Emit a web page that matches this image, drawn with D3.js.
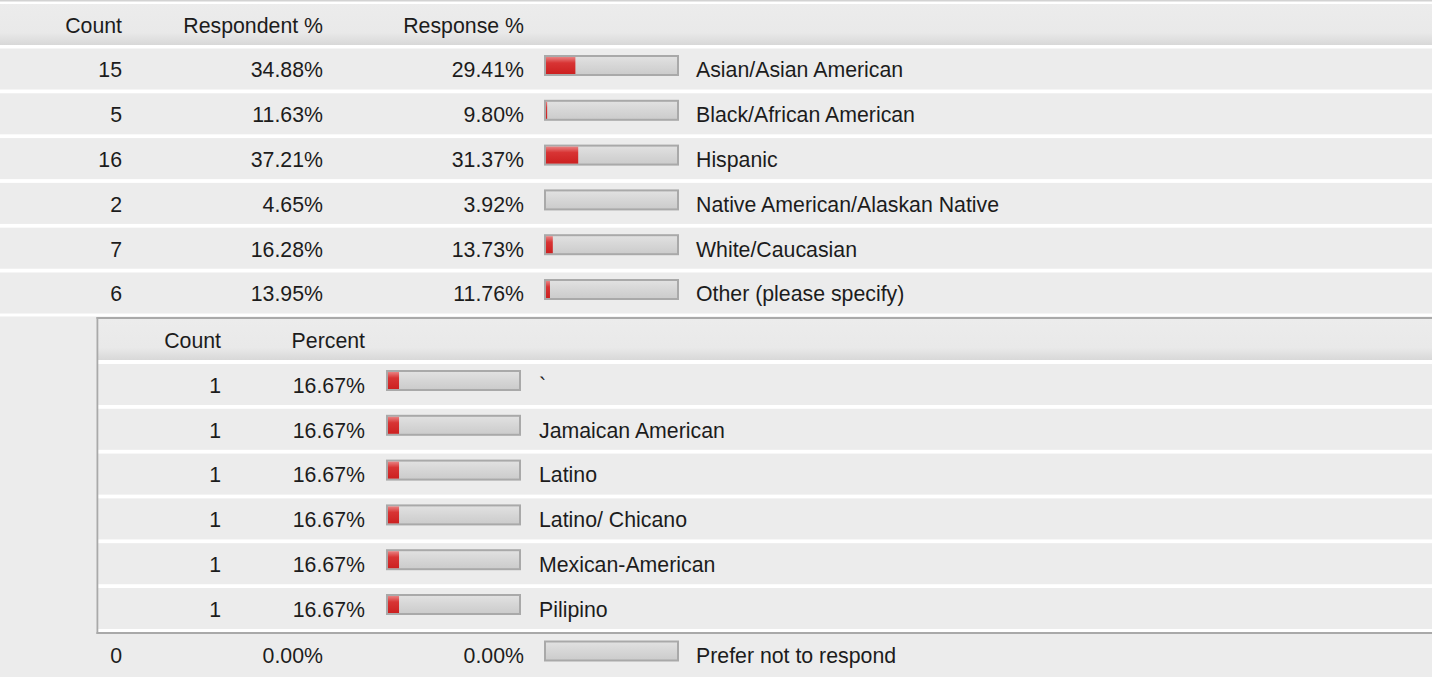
<!DOCTYPE html>
<html>
<head>
<meta charset="utf-8">
<script src="https://cdn.jsdelivr.net/npm/d3@7/dist/d3.min.js"></script>
<style>
  html, body { margin: 0; padding: 0; background: #ffffff; }
  svg { display: block; }
  text { font-family: "Liberation Sans", Arial, Helvetica, sans-serif; font-size: 21.3px; fill: #1c1c1c; }
</style>
</head>
<body>
<svg id="chart" width="1432" height="677"></svg>
<script>
// ---------- data ----------
const mainHeaders = ["Count", "Respondent %", "Response %"];
const mainLabels = ["Asian/Asian American", "Black/African American", "Hispanic",
  "Native American/Alaskan Native", "White/Caucasian", "Other (please specify)", "Prefer not to respond"];
const mainCounts = [15, 5, 16, 2, 7, 6, 0];
const respondentPct = [34.88, 11.63, 37.21, 4.65, 16.28, 13.95, 0.00];
const responsePct = [29.41, 9.80, 31.37, 3.92, 13.73, 11.76, 0.00];

const subHeaders = ["Count", "Percent"];
const subLabels = ["`", "Jamaican American", "Latino", "Latino/ Chicano", "Mexican-American", "Pilipino"];
const subCounts = [1, 1, 1, 1, 1, 1];
const subPct = [16.67, 16.67, 16.67, 16.67, 16.67, 16.67];

// ---------- drawing ----------
const W = 1432, H = 677;
const svg = d3.select("#chart");
const defs = svg.append("defs");
const fmtPct = v => d3.format(".2f")(v) + "%";

function grad(id, stops) {
  const g = defs.append("linearGradient").attr("id", id)
    .attr("x1", 0).attr("y1", 0).attr("x2", 0).attr("y2", 1);
  stops.forEach(s => g.append("stop").attr("offset", s[0]).attr("stop-color", s[1]));
}
grad("hdr", [[0, "#ececec"], [0.7, "#e9e9e9"], [1, "#d8d8d8"]]);
grad("track", [[0, "#e2e2e2"], [0.5, "#d6d6d6"], [1, "#cbcbcb"]]);
grad("red", [[0, "#e98282"], [0.35, "#d83434"], [1, "#cc2020"]]);

const ROW_BG = "#ececec";
const ROW_H = 41;
const PITCH = 44.8;

// row index -> top y
const yMain = d3.scaleLinear().domain([0, 1]).range([48.5, 48.5 + PITCH]);
const ySub = d3.scaleLinear().domain([0, 1]).range([364, 364 + PITCH]);
const lastTop = 634;

// bar fill scale (shared by both tables)
const BAR_W = 135, BAR_H = 21, BORDER = 2;
const fillX = d3.scaleLinear().domain([9, 100]).range([0, BAR_W - 2 * BORDER]).clamp(true);

// top rule
svg.append("rect").attr("x", 0).attr("y", 0).attr("width", W).attr("height", 1.5).attr("fill", "#d2d2d2");

// main header
svg.append("rect").attr("x", 0).attr("y", 4).attr("width", W).attr("height", 41).attr("fill", "url(#hdr)");
const mainColX = [122, 323, 524];
svg.selectAll("text.mh").data(mainHeaders).join("text").attr("class", "mh")
  .attr("x", (d, i) => mainColX[i]).attr("y", 24.5 + 8).attr("text-anchor", "end").text(d => d);

function bar(g, x, y, value) {
  g.append("rect").attr("x", x + BORDER / 2).attr("y", y + BORDER / 2)
    .attr("width", BAR_W - BORDER).attr("height", BAR_H - BORDER)
    .attr("fill", "url(#track)").attr("stroke", "#a9a9a9").attr("stroke-width", BORDER);
  const w = fillX(value);
  if (w > 0) {
    g.append("rect").attr("x", x + BORDER).attr("y", y + BORDER)
      .attr("width", w).attr("height", BAR_H - 2 * BORDER).attr("fill", "url(#red)");
  }
}

function mainRow(i, top) {
  const g = svg.append("g");
  g.append("rect").attr("x", 0).attr("y", top).attr("width", W).attr("height", (i === 6 ? H - top : ROW_H)).attr("fill", ROW_BG);
  const cy = top + 20.5 + 8.3;
  g.append("text").attr("x", mainColX[0]).attr("y", cy).attr("text-anchor", "end").text(mainCounts[i]);
  g.append("text").attr("x", mainColX[1]).attr("y", cy).attr("text-anchor", "end").text(fmtPct(respondentPct[i]));
  g.append("text").attr("x", mainColX[2]).attr("y", cy).attr("text-anchor", "end").text(fmtPct(responsePct[i]));
  bar(g, 544, top + 6.5, responsePct[i]);
  g.append("text").attr("x", 696).attr("y", cy).text(mainLabels[i]);
}
for (let i = 0; i < 6; i++) mainRow(i, yMain(i));

// container row for the sub-table
svg.append("rect").attr("x", 0).attr("y", 316.5).attr("width", W).attr("height", lastTop - 316.5).attr("fill", ROW_BG);
// sub-table background (white gaps)
svg.append("rect").attr("x", 97).attr("y", 317).attr("width", W - 97).attr("height", 317).attr("fill", "#ffffff");
// sub header
svg.append("rect").attr("x", 98).attr("y", 319).attr("width", W - 98).attr("height", 41).attr("fill", "url(#hdr)");
const subColX = [221, 365];
svg.selectAll("text.sh").data(subHeaders).join("text").attr("class", "sh")
  .attr("x", (d, i) => subColX[i]).attr("y", 339.5 + 8).attr("text-anchor", "end").text(d => d);

subLabels.forEach((lab, j) => {
  const top = ySub(j);
  const g = svg.append("g");
  g.append("rect").attr("x", 98).attr("y", top).attr("width", W - 98).attr("height", ROW_H).attr("fill", ROW_BG);
  const cy = top + 20.5 + 8.3;
  g.append("text").attr("x", subColX[0]).attr("y", cy).attr("text-anchor", "end").text(subCounts[j]);
  g.append("text").attr("x", subColX[1]).attr("y", cy).attr("text-anchor", "end").text(fmtPct(subPct[j]));
  bar(g, 386, top + 6, subPct[j]);
  g.append("text").attr("x", 539).attr("y", cy).text(lab);
});

// sub-table borders
svg.append("rect").attr("x", 96.5).attr("y", 317).attr("width", W - 96.5).attr("height", 2).attr("fill", "#a9a9a9");
svg.append("rect").attr("x", 96.5).attr("y", 632).attr("width", W - 96.5).attr("height", 2).attr("fill", "#a9a9a9");
svg.append("rect").attr("x", 96.5).attr("y", 317).attr("width", 1.8).attr("height", 317).attr("fill", "#a9a9a9");

// last main row
mainRow(6, lastTop);
</script>
</body>
</html>
